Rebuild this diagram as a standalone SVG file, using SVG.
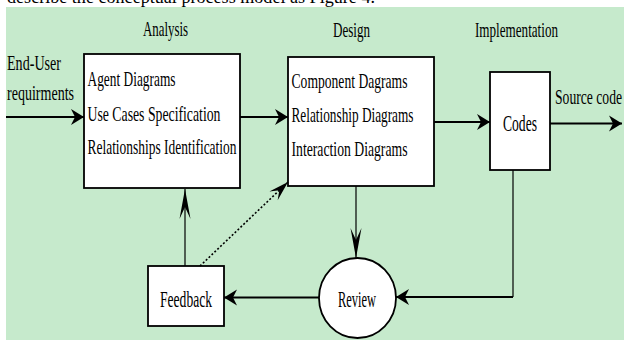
<svg xmlns="http://www.w3.org/2000/svg" width="624" height="340" viewBox="0 0 624 340">
  <defs>
    <style>
      .bg { fill: #C6EACC; }
      .box { fill: #FFFFFF; stroke: #000000; stroke-width: 1.8; }
      .t { font-family: "Liberation Serif", "Times New Roman", serif; fill: #000000; }
      .ln { fill: none; stroke: #000000; }
      .h { stroke-width: 2; }
      .v { stroke-width: 1.2; }
      .dot { stroke-width: 1.6; stroke-dasharray: 2 2; }
    </style>
    <marker id="arrowH" markerUnits="userSpaceOnUse" viewBox="-14 -9 15 18" refX="0" refY="0" markerWidth="15" markerHeight="18" orient="auto" overflow="visible">
      <path d="M0,0 L-13,-8 L-9,0 L-13,8 Z" fill="#000000"/>
    </marker>
    <marker id="arrowV" markerUnits="userSpaceOnUse" viewBox="-31 -7 32 14" refX="0" refY="0" markerWidth="32" markerHeight="14" orient="auto" overflow="visible">
      <path d="M0,0 L-30,-5.5 L-18,0 L-30,5.5 Z" fill="#000000"/>
    </marker>
    <marker id="arrowD" markerUnits="userSpaceOnUse" viewBox="-21 -7 22 14" refX="0" refY="0" markerWidth="22" markerHeight="14" orient="auto" overflow="visible">
      <path d="M0,0 L-20,-6 L-12,0 L-20,6 Z" fill="#000000"/>
    </marker>
  </defs>

  <rect x="0" y="0" width="624" height="340" fill="#FFFFFF"/>
  <text class="t" x="7" y="3" font-size="18" textLength="368" lengthAdjust="spacingAndGlyphs">describe the conceptual process model as Figure 4.</text>
  <rect class="bg" x="6" y="7" width="618" height="333"/>

  <g id="labels">
    <text class="t" x="143" y="36" font-size="21" textLength="45" lengthAdjust="spacingAndGlyphs">Analysis</text>
    <text class="t" x="333" y="37" font-size="21" textLength="37" lengthAdjust="spacingAndGlyphs">Design</text>
    <text class="t" x="475" y="37" font-size="21" textLength="83" lengthAdjust="spacingAndGlyphs">Implementation</text>
    <text class="t" x="7" y="70" font-size="21" textLength="54" lengthAdjust="spacingAndGlyphs">End-User</text>
    <text class="t" x="7" y="100" font-size="21" textLength="67" lengthAdjust="spacingAndGlyphs">requirments</text>
    <text class="t" x="555" y="104" font-size="22" textLength="67" lengthAdjust="spacingAndGlyphs">Source code</text>
  </g>

  <g id="analysis">
    <rect class="box" x="84" y="54" width="156" height="134"/>
    <text class="t" x="87.5" y="86" font-size="22" textLength="88" lengthAdjust="spacingAndGlyphs">Agent Diagrams</text>
    <text class="t" x="87.5" y="120.5" font-size="22" textLength="133" lengthAdjust="spacingAndGlyphs">Use Cases Specification</text>
    <text class="t" x="87.5" y="154" font-size="22" textLength="149" lengthAdjust="spacingAndGlyphs">Relationships Identification</text>
  </g>

  <g id="design">
    <rect class="box" x="288" y="57" width="146" height="129"/>
    <text class="t" x="291.5" y="88" font-size="22" textLength="116" lengthAdjust="spacingAndGlyphs">Component Dagrams</text>
    <text class="t" x="291.5" y="122" font-size="22" textLength="122" lengthAdjust="spacingAndGlyphs">Relationship Diagrams</text>
    <text class="t" x="291.5" y="155.5" font-size="22" textLength="116" lengthAdjust="spacingAndGlyphs">Interaction Diagrams</text>
  </g>

  <g id="codes">
    <rect class="box" x="490" y="72" width="60" height="98"/>
    <text class="t" x="503" y="131" font-size="23" textLength="34" lengthAdjust="spacingAndGlyphs">Codes</text>
  </g>

  <g id="feedback">
    <rect class="box" x="148" y="266" width="76" height="60"/>
    <text class="t" x="160" y="307" font-size="24" textLength="52" lengthAdjust="spacingAndGlyphs">Feedback</text>
  </g>

  <g id="review">
    <ellipse class="box" cx="357.5" cy="298" rx="38.5" ry="40" stroke-width="1.2"/>
    <text class="t" x="338" y="307" font-size="24" textLength="38" lengthAdjust="spacingAndGlyphs">Review</text>
  </g>

  <g id="connectors">
    <path class="ln h" d="M6,117 H84" marker-end="url(#arrowH)"/>
    <path class="ln h" d="M240,117 H288" marker-end="url(#arrowH)"/>
    <path class="ln h" d="M434,122 H490" marker-end="url(#arrowH)"/>
    <path class="ln h" d="M550,123.5 H622" marker-end="url(#arrowH)"/>
    <path class="ln v" d="M513,170 V297" />
    <path class="ln h" d="M513,297 H396" marker-end="url(#arrowH)"/>
    <path class="ln v" d="M356,186 V258" marker-end="url(#arrowV)"/>
    <path class="ln h" d="M319,297.5 H224" marker-end="url(#arrowH)"/>
    <path class="ln v" d="M185,266 V189" marker-end="url(#arrowV)"/>
    <path class="ln dot" d="M200,266 L288,182" marker-end="url(#arrowD)"/>
  </g>
</svg>
